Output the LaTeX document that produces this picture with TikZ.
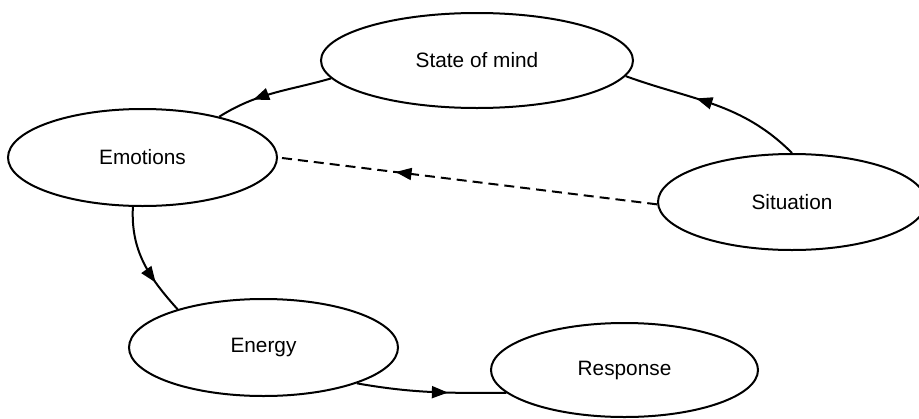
\documentclass[tikz,border=0pt]{standalone}
\usepackage{fontspec}
\setmainfont{Liberation Sans}
\usetikzlibrary{shapes.geometric,arrows.meta,decorations.markings}
\begin{document}
\begin{tikzpicture}[x=1pt,y=-1pt,
  stage/.style={ellipse,draw,line width=2pt,inner sep=0pt,
    font=\fontsize{20.8}{25}\selectfont},
  flow/.style={line width=2pt,postaction={decorate},
    decoration={markings,mark=at position #1 with
      {\arrow{Triangle[length=16pt,width=12pt]}}}},
  flow/.default=0.65]
\clip (0,0) rectangle (919,418);

% stages of the cycle
\node[stage,minimum width=312pt,minimum height=95pt] (mind) at (477,60.5) {State of mind};
\node[stage,minimum width=269pt,minimum height=97pt] (emo)  at (142.5,157.5) {Emotions};
\node[stage,minimum width=268pt,minimum height=96pt] (sit)  at (792,202) {Situation};
\node[stage,minimum width=269pt,minimum height=97pt] (nrg)  at (263.5,347.5) {Energy};
\node[stage,minimum width=267pt,minimum height=94pt] (resp) at (624.5,370) {Response};

% connectors
\draw[flow=0.6]  (sit.90)  to[out=135,in=340] (mind.354);
\draw[flow=0.68] (mind.187) to[out=196,in=32] (emo.28);
\draw[flow=0.69,dash pattern=on 10pt off 6pt] (sit.181) -- (emo.0);
\draw[flow=0.7]  (emo.259) to[out=267,in=132] (nrg.156);
\draw[flow=0.61] (nrg.339) to[out=-10,in=180] (resp.191);
\end{tikzpicture}
\end{document}
